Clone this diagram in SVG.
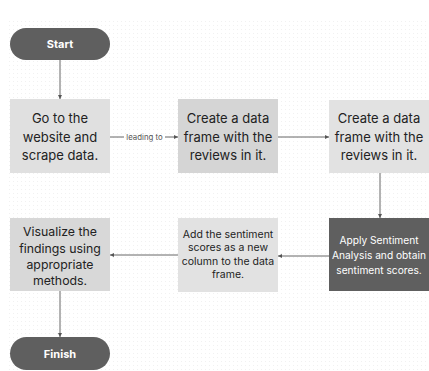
<svg xmlns="http://www.w3.org/2000/svg" width="429" height="371" viewBox="0 0 429 371">
<defs>
<style>
.t{font-family:Inter,"Liberation Sans",sans-serif;text-anchor:middle;dominant-baseline:central;fill:#222}
.big{font-size:13px}
.sm{font-size:10.2px}
.pill{fill:#5f5f5f}
.pt{font-family:Inter,"Liberation Sans",sans-serif;font-size:11px;font-weight:bold;fill:#fff;text-anchor:middle;dominant-baseline:central}
.ln{stroke:#666;stroke-width:1;fill:none}
</style>
<marker id="ah" viewBox="0 0 6 6" refX="6" refY="3" markerWidth="4" markerHeight="4" orient="auto">
<path d="M0,0 L6,3 L0,6 Z" fill="#555"/>
</marker>
<pattern id="dots" width="4" height="4" patternUnits="userSpaceOnUse">
<rect x="1" y="1" width="1" height="1" fill="#f1f1f1"/>
</pattern>
</defs>
<rect width="429" height="371" fill="#fff"/>
<rect x="8" y="20" width="421" height="351" fill="url(#dots)"/>
<g id="connectors">
<line class="ln" x1="60" y1="60" x2="60" y2="99" marker-end="url(#ah)"/>
<line class="ln" x1="110" y1="137" x2="124" y2="137"/>
<text x="144.5" y="137" style="font-family:Inter,'Liberation Sans',sans-serif;font-size:7.8px;fill:#555;text-anchor:middle;dominant-baseline:central">leading to</text>
<line class="ln" x1="165" y1="137" x2="178" y2="137" marker-end="url(#ah)"/>
<line class="ln" x1="278" y1="137" x2="329" y2="137" marker-end="url(#ah)"/>
<line class="ln" x1="380" y1="173" x2="380" y2="218" marker-end="url(#ah)"/>
<line class="ln" x1="329" y1="256" x2="278" y2="256" marker-end="url(#ah)"/>
<line class="ln" x1="178" y1="255" x2="110" y2="255" marker-end="url(#ah)"/>
<line class="ln" x1="60" y1="291" x2="60" y2="337" marker-end="url(#ah)"/>
</g>
<g id="start">
<rect class="pill" x="10" y="28" width="100" height="32" rx="16"/>
<text class="pt" x="60" y="44">Start</text>
</g>
<g id="scrape">
<rect x="10" y="99" width="100" height="74" fill="#e0e0e0"/>
<text class="t big" x="60" y="118">Go to the</text>
<text class="t big" x="60" y="136.5">website and</text>
<text class="t big" x="60" y="155">scrape data.</text>
</g>
<g id="frame1">
<rect x="178" y="99" width="100" height="74" fill="#d5d5d5"/>
<text class="t big" x="228" y="118">Create a data</text>
<text class="t big" x="228" y="136.5">frame with the</text>
<text class="t big" x="228" y="155">reviews in it.</text>
</g>
<g id="frame2">
<rect x="329" y="100" width="100" height="73" fill="#e2e2e2"/>
<text class="t big" x="379" y="118">Create a data</text>
<text class="t big" x="379" y="136.5">frame with the</text>
<text class="t big" x="379" y="155">reviews in it.</text>
</g>
<g id="sentiment">
<rect x="329" y="218" width="100" height="73" fill="#5f5f5f"/>
<text class="t sm" x="379" y="240" style="fill:#fff">Apply Sentiment</text>
<text class="t sm" x="379" y="255" style="fill:#fff">Analysis and obtain</text>
<text class="t sm" x="379" y="270" style="fill:#fff">sentiment scores.</text>
</g>
<g id="addscores">
<rect x="178" y="218" width="100" height="74" fill="#e2e2e2"/>
<text class="t" x="228" y="234.5" style="font-size:10.5px">Add the sentiment</text>
<text class="t" x="228" y="247.8" style="font-size:10.5px">scores as a new</text>
<text class="t" x="228" y="261" style="font-size:10.5px">column to the data</text>
<text class="t" x="228" y="274.3" style="font-size:10.5px">frame.</text>
</g>
<g id="visualize">
<rect x="10" y="218" width="100" height="73" fill="#d8d8d8"/>
<text class="t" x="60" y="231.5" style="font-size:12.3px">Visualize the</text>
<text class="t" x="60" y="248" style="font-size:12.3px">findings using</text>
<text class="t" x="60" y="264" style="font-size:12.3px">appropriate</text>
<text class="t" x="60" y="280" style="font-size:12.3px">methods.</text>
</g>
<g id="finish">
<rect class="pill" x="10" y="337" width="100" height="33" rx="16.5"/>
<text class="pt" x="60" y="354">Finish</text>
</g>
</svg>
